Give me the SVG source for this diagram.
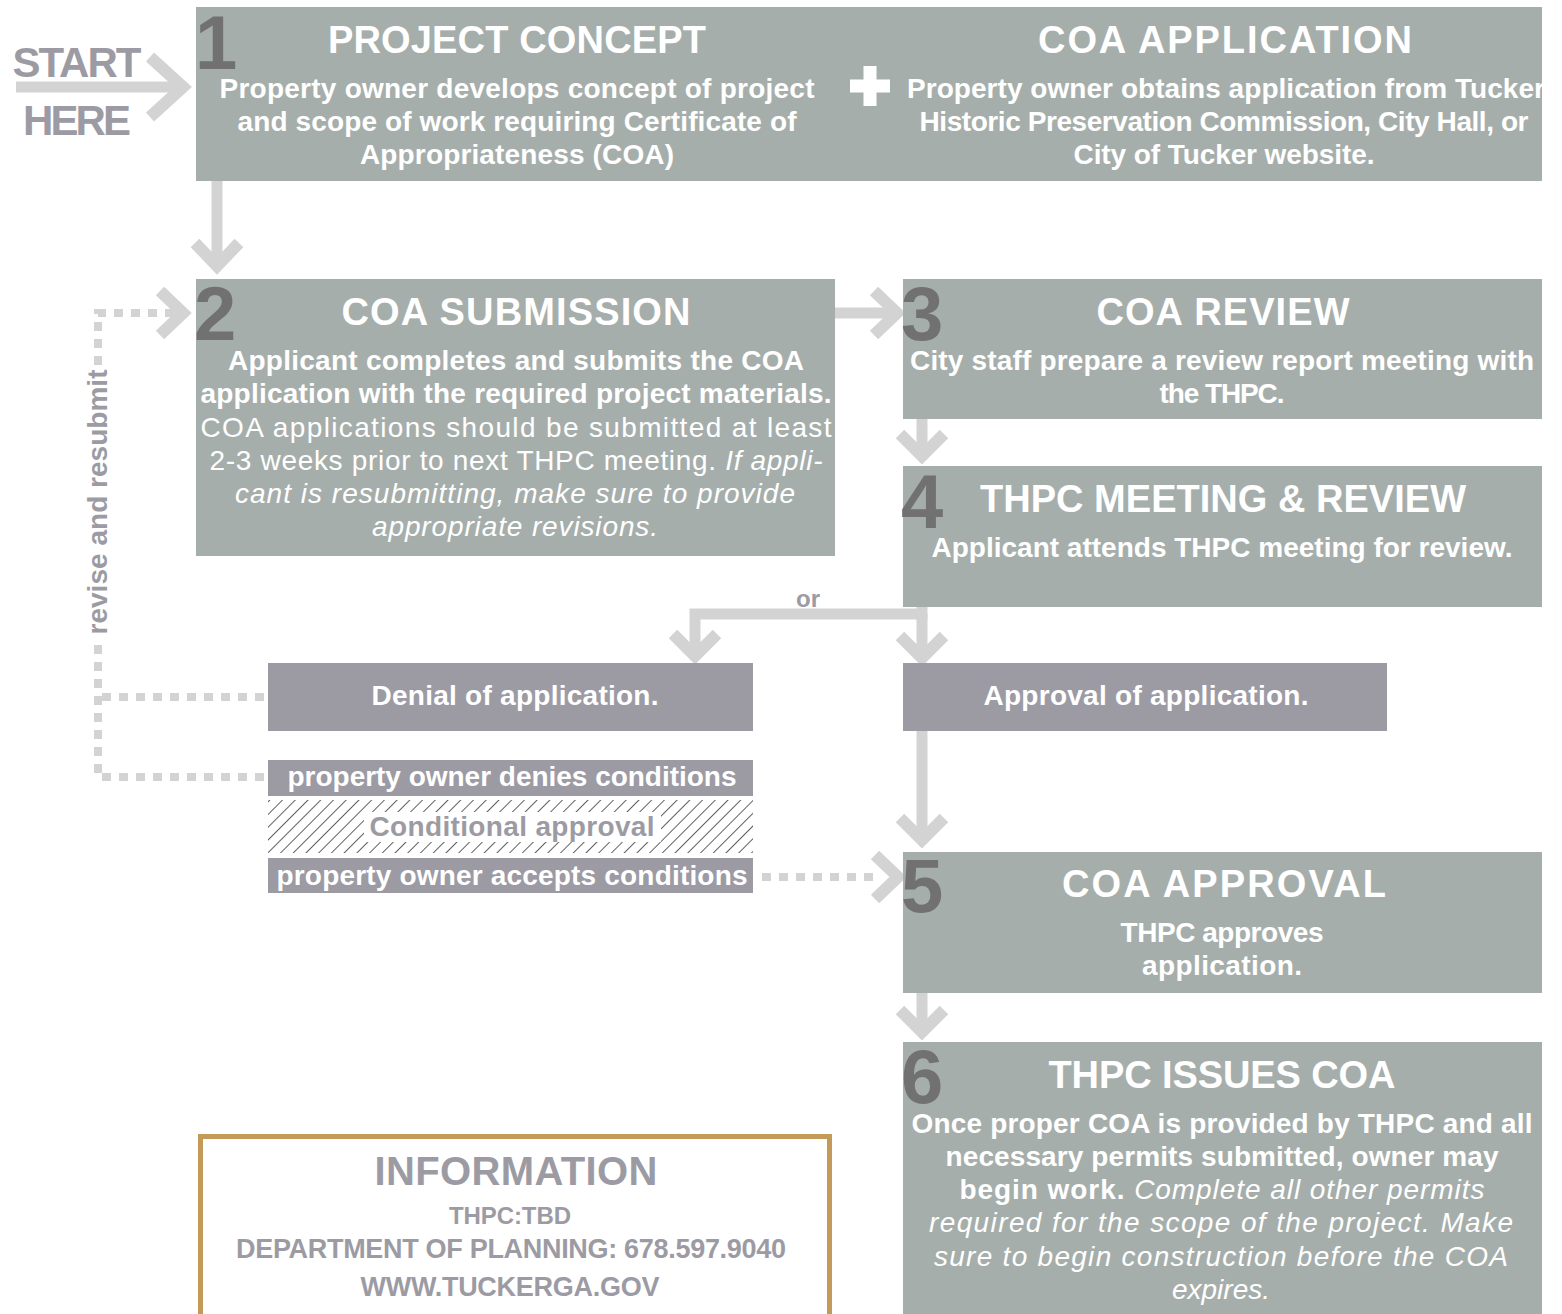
<svg xmlns="http://www.w3.org/2000/svg" width="1562" height="1314" viewBox="0 0 1562 1314">
<defs>
<style>
.box{fill:#a6aeab}
.pbox{fill:#9c9ba4}
.t{font-family:"Liberation Sans",Arial,sans-serif;fill:#fff;text-anchor:middle}
.title{font-size:38px;font-weight:bold}
.b{font-size:28px;font-weight:bold}
.r{font-size:28px;font-weight:normal}
.i{font-style:italic;font-weight:normal}
.num{font-family:"Liberation Sans",Arial,sans-serif;font-size:76px;font-weight:bold;fill:#717171}
.g{fill:#9c9ba4}
.arr{fill:none;stroke:#d3d3d3;stroke-width:11}
.chev{fill:none;stroke:#d3d3d3;stroke-width:12}
.dot{fill:none;stroke:#d3d3d3;stroke-width:8;stroke-dasharray:9 8}
</style>
<pattern id="hatch" patternUnits="userSpaceOnUse" width="9" height="9" patternTransform="rotate(45)">
<line x1="0" y1="0" x2="0" y2="9" stroke="#1a1a1a" stroke-width="1.4"/>
</pattern>
</defs>
<rect width="1562" height="1314" fill="#fff"/>

<g id="connectors">
<line class="arr" x1="16" y1="87" x2="182" y2="87"/>
<polyline class="chev" points="150,57 183,87 150,117"/>
<line class="arr" x1="217" y1="181" x2="217" y2="265"/>
<polyline class="chev" points="195,243 217,266 239,243"/>
<line class="arr" x1="835" y1="313" x2="896" y2="313"/>
<polyline class="chev" points="874,291 897,313 874,335"/>
<line class="arr" x1="922" y1="419" x2="922" y2="458"/>
<polyline class="chev" points="900,434 922,456 944,434"/>
<polyline class="arr" points="922,607 922,614 695,614 695,655"/>
<line class="arr" x1="922" y1="614" x2="922" y2="657"/>
<polyline class="chev" points="673,634 695,656 717,634"/>
<polyline class="chev" points="900,636 922,658 944,636"/>
<line class="arr" x1="922" y1="731" x2="922" y2="840"/>
<polyline class="chev" points="900,818 922,840 944,818"/>
<line class="arr" x1="922" y1="993" x2="922" y2="1032"/>
<polyline class="chev" points="900,1010 922,1032 944,1010"/>
<polyline class="dot" points="264,697 98,697"/>
<polyline class="dot" points="264,777 98,777 98,313 176,313"/>
<polyline class="chev" points="160,291 183,313 160,335"/>
<rect x="82" y="366" width="30" height="272" fill="#fff"/>
<text class="t" transform="translate(107,502) rotate(-90)" style="font-size:28px;font-weight:bold;fill:#9c9ba4" textLength="265">revise and resubmit</text>
<line class="dot" x1="762" y1="877" x2="880" y2="877"/>
<polyline class="chev" points="875,855 898,877 875,899"/>
<text class="t" x="808" y="607" style="font-size:24px;font-weight:bold;fill:#9c9ba4">or</text>
</g>

<g id="start">
<text class="t" x="77" y="77" style="font-size:42px;font-weight:bold;fill:#9c9ba4" textLength="129">START</text>
<text class="t" x="77" y="135" style="font-size:42px;font-weight:bold;fill:#9c9ba4" textLength="108">HERE</text>
</g>

<g id="step1">
<rect class="box" x="196" y="7" width="1346" height="174"/>
<text class="num" x="195" y="69">1</text>
<text class="t title" x="517" y="53" textLength="378">PROJECT CONCEPT</text>
<text class="t b" x="517" y="98" textLength="595">Property owner develops concept of project</text>
<text class="t b" x="517" y="131" textLength="559">and scope of work requiring Certificate of</text>
<text class="t b" x="517" y="164" textLength="314">Appropriateness (COA)</text>
<rect x="863.5" y="66" width="13" height="40" fill="#fff"/>
<rect x="850" y="79.5" width="40" height="13" fill="#fff"/>
<text class="t title" x="1225" y="53" textLength="374">COA APPLICATION</text>
<text class="t b" x="1226" y="98" textLength="638">Property owner obtains application from Tucker</text>
<text class="t b" x="1224" y="131" textLength="609">Historic Preservation Commission, City Hall, or</text>
<text class="t b" x="1224" y="164" textLength="301">City of Tucker website.</text>
</g>

<g id="step2">
<rect class="box" x="196" y="279" width="639" height="277"/>
<text class="num" x="194" y="340">2</text>
<text class="t title" x="516" y="325" textLength="349">COA SUBMISSION</text>
<text class="t b" x="516" y="370" textLength="576">Applicant completes and submits the COA</text>
<text class="t b" x="516" y="403" textLength="631">application with the required project materials.</text>
<text class="t r" x="516" y="437" textLength="631">COA applications should be submitted at least</text>
<text class="t r" x="516" y="470" textLength="613">2-3 weeks prior to next THPC meeting. <tspan class="i">If appli-</tspan></text>
<text class="t r i" x="515" y="503" textLength="560">cant is resubmitting, make sure to provide</text>
<text class="t r i" x="515" y="536" textLength="286">appropriate revisions.</text>
</g>

<g id="step3">
<rect class="box" x="903" y="279" width="639" height="140"/>
<text class="num" x="901" y="340">3</text>
<text class="t title" x="1223" y="325" textLength="253">COA REVIEW</text>
<text class="t b" x="1222" y="370" textLength="624">City staff prepare a review report meeting with</text>
<text class="t b" x="1222" y="403" textLength="125">the THPC.</text>
</g>

<g id="step4">
<rect class="box" x="903" y="466" width="639" height="141"/>
<text class="num" x="901" y="528">4</text>
<text class="t title" x="1223" y="512" textLength="486">THPC MEETING &amp; REVIEW</text>
<text class="t b" x="1222" y="557" textLength="581">Applicant attends THPC meeting for review.</text>
</g>

<g id="denial">
<rect class="pbox" x="268" y="663" width="485" height="68"/>
<text class="t b" x="515" y="705" textLength="287">Denial of application.</text>
</g>

<g id="approval">
<rect class="pbox" x="903" y="663" width="484" height="68"/>
<text class="t b" x="1146" y="705" textLength="325">Approval of application.</text>
</g>

<g id="denies">
<rect class="pbox" x="268" y="760" width="485" height="36"/>
<text class="t b" x="512" y="786" textLength="449">property owner denies conditions</text>
</g>

<g id="conditional">
<rect x="268" y="800" width="485" height="53" fill="url(#hatch)"/>
<rect x="364" y="812" width="297" height="30" fill="#fff"/>
<text class="t b" x="512" y="836" style="fill:#9c9ba4" textLength="285">Conditional approval</text>
</g>

<g id="accepts">
<rect class="pbox" x="268" y="858" width="485" height="35"/>
<text class="t b" x="512" y="885" textLength="471">property owner accepts conditions</text>
</g>

<g id="step5">
<rect class="box" x="903" y="852" width="639" height="141"/>
<text class="num" x="901" y="912">5</text>
<text class="t title" x="1224" y="897" textLength="324">COA APPROVAL</text>
<text class="t b" x="1222" y="942" textLength="203">THPC approves</text>
<text class="t b" x="1222" y="975" textLength="160">application.</text>
</g>

<g id="step6">
<rect class="box" x="903" y="1042" width="639" height="272"/>
<text class="num" x="901" y="1103">6</text>
<text class="t title" x="1222" y="1088" textLength="347">THPC ISSUES COA</text>
<text class="t b" x="1222" y="1133" textLength="621">Once proper COA is provided by THPC and all</text>
<text class="t b" x="1222" y="1166" textLength="553">necessary permits submitted, owner may</text>
<text class="t b" x="1222" y="1199" textLength="525">begin work. <tspan class="i">Complete all other permits</tspan></text>
<text class="t r i" x="1221" y="1232" textLength="584">required for the scope of the project. Make</text>
<text class="t r i" x="1221" y="1266" textLength="574">sure to begin construction before the COA</text>
<text class="t r i" x="1221" y="1299" textLength="98">expires.</text>
</g>

<g id="information">
<rect x="200.5" y="1136.5" width="629" height="185" fill="#fff" stroke="#c49a5a" stroke-width="5"/>
<text class="t" x="516" y="1185" style="font-size:40px;font-weight:bold;fill:#9c9ba4" textLength="283">INFORMATION</text>
<text class="t" x="510" y="1224" style="font-size:24px;font-weight:bold;fill:#9c9ba4" textLength="122">THPC:TBD</text>
<text class="t" x="511" y="1258" style="font-size:27px;font-weight:bold;fill:#9c9ba4" textLength="550">DEPARTMENT OF PLANNING: 678.597.9040</text>
<text class="t" x="510" y="1296" style="font-size:27px;font-weight:bold;fill:#9c9ba4" textLength="299">WWW.TUCKERGA.GOV</text>
</g>
</svg>
